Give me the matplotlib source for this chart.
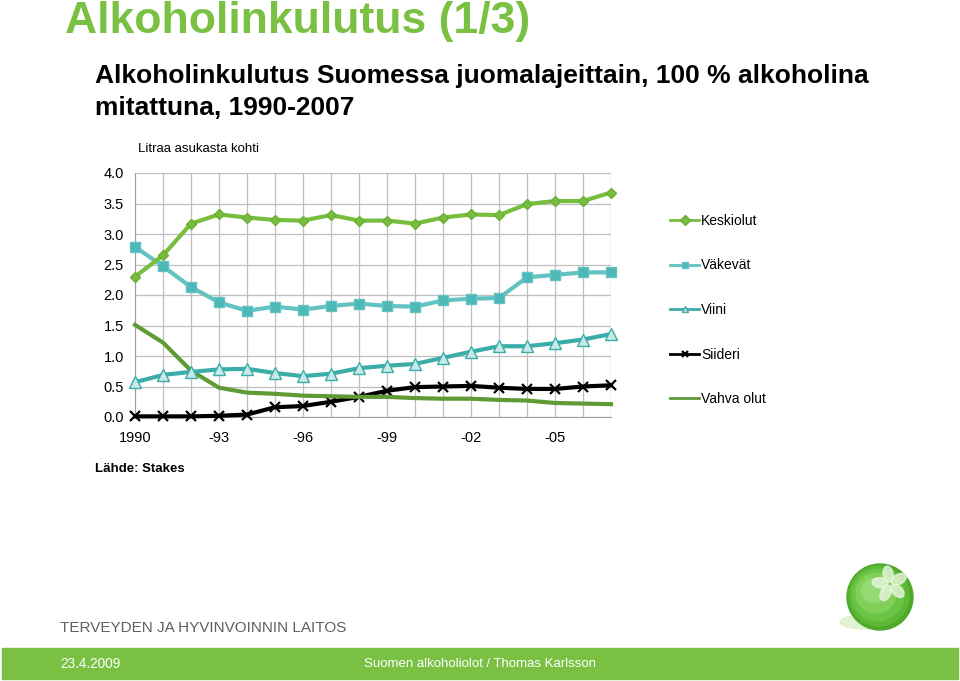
import matplotlib
matplotlib.use("Agg")
import matplotlib.pyplot as plt
from matplotlib.patches import Rectangle, Circle, Ellipse
import numpy as np

years = list(range(1990, 2008))
keskiolut = [2.30, 2.65, 3.17, 3.32, 3.27, 3.23, 3.22, 3.31, 3.22, 3.22, 3.17, 3.27, 3.32, 3.31, 3.49, 3.54, 3.54, 3.68]
vakevat = [2.79, 2.47, 2.13, 1.88, 1.74, 1.81, 1.76, 1.82, 1.86, 1.82, 1.81, 1.91, 1.94, 1.95, 2.29, 2.33, 2.37, 2.37]
viini = [0.57, 0.69, 0.74, 0.78, 0.79, 0.72, 0.67, 0.71, 0.80, 0.84, 0.87, 0.97, 1.07, 1.16, 1.16, 1.21, 1.27, 1.36]
siideri = [0.01, 0.01, 0.01, 0.02, 0.04, 0.16, 0.18, 0.25, 0.33, 0.43, 0.49, 0.50, 0.51, 0.48, 0.46, 0.46, 0.50, 0.52]
vahva_olut = [1.51, 1.22, 0.76, 0.48, 0.40, 0.38, 0.35, 0.34, 0.33, 0.33, 0.31, 0.30, 0.30, 0.28, 0.27, 0.23, 0.22, 0.21]
series_names = ["Keskiolut", "Väkevät", "Viini", "Siideri", "Vahva olut"]
xtick_years = [1990, 1993, 1996, 1999, 2002, 2005]
xtick_labels = ["1990", "-93", "-96", "-99", "-02", "-05"]
yticks = [0.0, 0.5, 1.0, 1.5, 2.0, 2.5, 3.0, 3.5, 4.0]

GREEN = "#7AC143"
fig = plt.figure(figsize=(9.6, 6.81), dpi=100)
arial = ["Liberation Sans", "DejaVu Sans"]

fig.text(65/960, 1 - 21/681, "Alkoholinkulutus (1/3)", color=GREEN, fontsize=32,
         fontweight="bold", family=arial, va="center", ha="left")
fig.text(95/960, 1 - 76/681, "Alkoholinkulutus Suomessa juomalajeittain, 100 % alkoholina",
         fontsize=19, fontweight="bold", family=arial, va="center", ha="left")
fig.text(95/960, 1 - 108/681, "mitattuna, 1990-2007",
         fontsize=19, fontweight="bold", family=arial, va="center", ha="left")

ax = fig.add_axes([135/960, 1 - 417/681, 476/960, 244/681])
ax.set_xlim(1990, 2007)
ax.set_ylim(0, 4)
ax.set_xticks(xtick_years)
ax.set_xticklabels(xtick_labels, family=arial, fontsize=10.5)
ax.set_xticks(years, minor=True)
ax.set_yticks(yticks)
ax.set_yticklabels([f"{v:.1f}" for v in yticks], family=arial, fontsize=10.5)
ax.grid(True, which="both", color="#BFBFBF", lw=0.9)
ax.set_axisbelow(True)
for s in ["top", "right"]:
    ax.spines[s].set_visible(False)
ax.spines["left"].set_color("#A0A0A0")
ax.spines["bottom"].set_color("#A0A0A0")
ax.tick_params(axis="y", which="both", length=0, pad=8)
ax.tick_params(axis="x", which="both", length=0, pad=10)

l1, = ax.plot(years, keskiolut, color="#78BE3E", lw=3, marker="D", ms=5,
              mfc="#78BE3E", mec="#6AAE35", label=series_names[0], clip_on=False, zorder=5)
l2, = ax.plot(years, vakevat, color="#62C3C2", lw=3, marker="s", ms=7,
              mfc="#4DB8B8", mec="#62C3C2", label=series_names[1], clip_on=False, zorder=4)
l3, = ax.plot(years, viini, color="#3AADA8", lw=3, marker="^", ms=8,
              mfc="#C9E8E7", mec="#3AADA8", label=series_names[2], clip_on=False, zorder=4)
l4, = ax.plot(years, siideri, color="black", lw=3, marker="x", ms=7, mew=1.6,
              label=series_names[3], clip_on=False, zorder=3)
l5, = ax.plot(years, vahva_olut, color="#5E9B35", lw=3, label=series_names[4],
              clip_on=False, zorder=3)

leg = fig.legend(handles=[l1, l2, l3, l4, l5], loc="upper left",
                 bbox_to_anchor=(663/960, 1 - 207/681), frameon=False,
                 prop={"family": arial, "size": 10}, labelspacing=2.2,
                 handlelength=2.1, handletextpad=0.15, borderpad=0)
for line in leg.get_lines():
    line.set_linewidth(2)
    line.set_markersize(5)

fig.text(138/960, 1 - 149/681, "Litraa asukasta kohti", family=arial, fontsize=9.5,
         va="center", ha="left")
fig.text(95/960, 1 - 469/681, "Lähde: Stakes", family=arial, fontsize=9.5,
         fontweight="bold", va="center", ha="left")

fig.text(60/960, 1 - 628/681, "TERVEYDEN JA HYVINVOINNIN LAITOS", family=arial,
         fontsize=11, color="#606060", va="center", ha="left")

# footer band
fig.patches.append(Rectangle((2/960, 1 - 679/681), 956/960, 31/681,
                             transform=fig.transFigure, color=GREEN, zorder=0))
fig.text(60/960, 1 - 664/681, "23.4.2009", family=arial, fontsize=9.8,
         color="white", va="center", ha="left")
fig.text(480/960, 1 - 664/681, "Suomen alkoholiolot / Thomas Karlsson", family=arial,
         fontsize=9.5, color="white", va="center", ha="center")

# logo
lax = fig.add_axes([830/960, 1 - 642/681, 100/960, 90/681])
lax.set_xlim(0, 100)
lax.set_ylim(0, 90)
lax.set_aspect("equal")
lax.axis("off")
lax.add_patch(Ellipse((35, 20), 50, 14, color="#D8EFC8", alpha=0.8))
for r, c in [(33, "#4EA82A"), (30, "#5DB836"), (26, "#6CC444"), (20, "#80D05A"), (12, "#94DA72")]:
    lax.add_patch(Circle((50 - (33 - r) * 0.3, 45 + (33 - r) * 0.3), r, color=c))
for ang in np.linspace(0, 2 * np.pi, 5, endpoint=False):
    lax.add_patch(Ellipse((60 + 10 * np.cos(ang + 0.5), 58 + 10 * np.sin(ang + 0.5)),
                          16, 10, angle=np.degrees(ang + 0.5), color="#E8F5DD", alpha=0.8))

fig.savefig("out.png", dpi=100)
